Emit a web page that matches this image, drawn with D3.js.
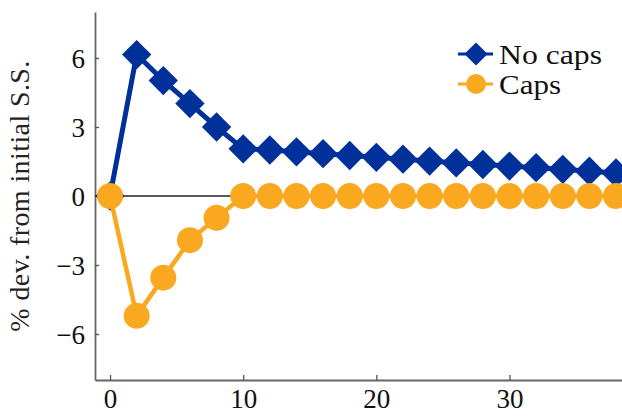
<!DOCTYPE html>
<html>
<head>
<meta charset="utf-8">
<script src="https://cdn.jsdelivr.net/npm/d3@7"></script>
<style>
  html, body { margin: 0; padding: 0; background: #fff; }
  svg { display: block; font-family: "Liberation Serif", "DejaVu Serif", serif; }
</style>
</head>
<body>
<svg id="chart" width="622" height="417"></svg>
<script>
// horizon (quarters) and responses, % dev. from initial S.S.
const periods = [0, 2, 4, 6, 8, 10, 12, 14, 16, 18, 20, 22, 24, 26, 28, 30, 32, 34, 36, 38];
const noCaps = [0, 6.15, 5.02, 4.02, 3.0, 2.05, 2.0, 1.92, 1.84, 1.76, 1.68, 1.6, 1.52, 1.44, 1.37, 1.3, 1.23, 1.16, 1.08, 1.0];
const caps = [0, -5.21, -3.55, -1.92, -0.95, 0, 0, 0, 0, 0, 0, 0, 0, 0, 0, 0, 0, 0, 0, 0];
const xTicks = [0, 10, 20, 30];
const yTicks = [-6, -3, 0, 3, 6];

const blue = "#00309a";
const orange = "#f9a81f";
const serif = "'Liberation Serif', 'DejaVu Serif', serif";

const svg = d3.select("#chart");
const plotL = 95, plotR = 622, plotT = 12, plotB = 380;

const x = d3.scaleLinear().domain([-1.13, 38.45]).range([plotL, plotR]);
const y = d3.scaleLinear().domain([-8, 8]).range([plotB, plotT]);

// axes
const xAxis = svg.append("g")
  .attr("transform", `translate(0,${plotB})`)
  .call(d3.axisBottom(x).tickValues(xTicks).tickSize(-5).tickPadding(10).tickSizeOuter(0));
const yAxis = svg.append("g")
  .attr("transform", `translate(${plotL},0)`)
  .call(d3.axisLeft(y).tickValues(yTicks).tickSize(-4).tickPadding(10).tickSizeOuter(0));

[xAxis, yAxis].forEach(a => {
  a.attr("font-family", serif);
  a.select(".domain").attr("stroke", "#666").attr("stroke-width", 1.8);
  a.selectAll(".tick line").attr("stroke", "#555").attr("stroke-width", 1.3);
  a.selectAll(".tick text")
    .attr("fill", "#111")
    .style("font-family", serif)
    .style("font-size", "27px");
});
yAxis.selectAll(".tick text").attr("dy", "0.34em");
xAxis.selectAll(".tick text").attr("dy", "0.66em");

// zero line
svg.append("line")
  .attr("x1", plotL).attr("x2", plotR)
  .attr("y1", y(0)).attr("y2", y(0))
  .attr("stroke", "#222").attr("stroke-width", 1.5);

const line = d3.line().x(d => x(d[0])).y(d => y(d[1]));
const diamond = d3.symbol(d3.symbolSquare, 430);
const circle = d3.symbol(d3.symbolCircle, 531);

// No caps
const noCapsPts = periods.map((p, i) => [p, noCaps[i]]);
svg.append("path")
  .datum(noCapsPts)
  .attr("d", line)
  .attr("fill", "none")
  .attr("stroke", blue)
  .attr("stroke-width", 5)
  .attr("stroke-linejoin", "round");
svg.append("g").selectAll("path")
  .data(noCapsPts)
  .join("path")
  .attr("d", diamond)
  .attr("transform", d => `translate(${x(d[0])},${y(d[1])}) rotate(45)`)
  .attr("fill", blue);

// Caps
const capsPts = periods.map((p, i) => [p, caps[i]]);
svg.append("path")
  .datum(capsPts)
  .attr("d", line)
  .attr("fill", "none")
  .attr("stroke", orange)
  .attr("stroke-width", 4.5)
  .attr("stroke-linejoin", "round");
svg.append("g").selectAll("path")
  .data(capsPts)
  .join("path")
  .attr("d", circle)
  .attr("transform", d => `translate(${x(d[0])},${y(d[1])})`)
  .attr("fill", orange);

// y label
svg.append("text")
  .attr("transform", `translate(29,${y(0)}) rotate(-90)`)
  .attr("text-anchor", "middle")
  .attr("font-family", "Liberation Serif")
  .attr("font-size", 28)
  .attr("letter-spacing", 0.4)
  .attr("fill", "#222")
  .text("% dev. from initial S.S.");

// legend
const legend = [
  { label: "No caps", color: blue, sym: d3.symbol(d3.symbolSquare, 270), rot: 45, w: 103 },
  { label: "Caps", color: orange, sym: d3.symbol(d3.symbolCircle, 310), rot: 0, w: 62 }
];
const lg = svg.append("g").attr("transform", "translate(476,54)");
legend.forEach((d, i) => {
  const row = lg.append("g").attr("transform", `translate(0,${i * 30})`);
  row.append("line")
    .attr("x1", -18).attr("x2", 17)
    .attr("stroke", d.color).attr("stroke-width", 3);
  row.append("path")
    .attr("d", d.sym)
    .attr("transform", `rotate(${d.rot})`)
    .attr("fill", d.color);
  row.append("text")
    .attr("x", 23).attr("y", 10)
    .attr("textLength", d.w)
    .attr("lengthAdjust", "spacingAndGlyphs")
    .style("font-family", serif)
    .style("font-size", "27px")
    .attr("fill", "#111")
    .text(d.label);
});
</script>
</body>
</html>
